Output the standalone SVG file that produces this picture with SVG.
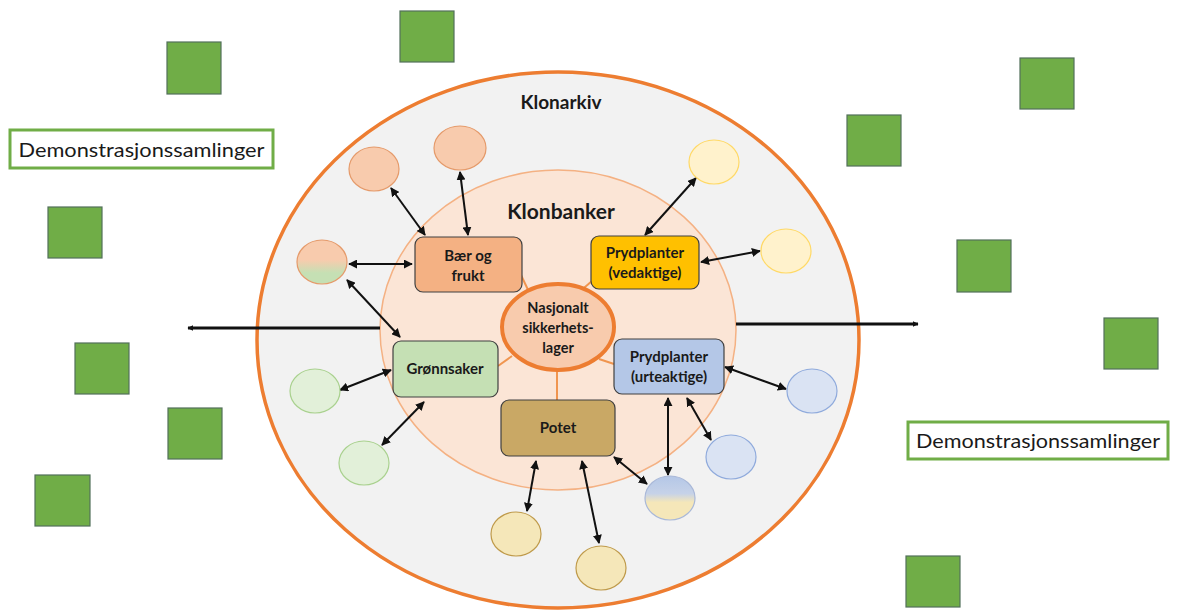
<svg xmlns="http://www.w3.org/2000/svg" width="1177" height="610" viewBox="0 0 1177 610">
<defs>
<style>
.sq{fill:#70AD47;stroke:#52705A;stroke-width:1.2}
.demo{fill:#fff;stroke:#70AD47;stroke-width:3}
.demot{font-family:Lato,"Liberation Sans",sans-serif;font-size:20px;fill:#1a1a1a;text-anchor:middle}
.bt{font-family:Lato,"Liberation Sans",sans-serif;font-size:15px;font-weight:bold;fill:#1a1a1a;text-anchor:middle}
.ct{font-family:Lato,"Liberation Sans",sans-serif;font-size:14.5px;font-weight:bold;fill:#1a1a1a;text-anchor:middle}
.title{font-family:Lato,"Liberation Sans",sans-serif;font-weight:bold;fill:#1a1a1a;text-anchor:middle}
.box{stroke:#404040;stroke-width:1.2}
.spoke{stroke:#F0954F;stroke-width:2;fill:none}
.arr{stroke:#111;stroke-width:2;fill:none;marker-start:url(#ah);marker-end:url(#ah)}
.long{stroke:#111;stroke-width:3;fill:none}
.co{fill:#F8CBAD;stroke:#E59A6A;stroke-width:1.2}
.cy{fill:#FFF2CC;stroke:#FFD966;stroke-width:1.2}
.cg{fill:#E2F0D9;stroke:#A9D18E;stroke-width:1.2}
.cp{fill:#F5E7B9;stroke:#BF9A4A;stroke-width:1.2}
.cb{fill:#DAE3F3;stroke:#8FAADC;stroke-width:1.2}
</style>
<marker id="ah" viewBox="0 0 10 10" refX="9" refY="5" markerWidth="4.5" markerHeight="4.5" orient="auto-start-reverse" markerUnits="strokeWidth">
<path d="M0,0 L10,5 L0,10 Z" fill="#111"/>
</marker>
<marker id="ahs" viewBox="0 0 10 10" refX="9" refY="5" markerWidth="2" markerHeight="2" orient="auto-start-reverse" markerUnits="strokeWidth">
<path d="M0,0 L10,5 L0,10 Z" fill="#111"/>
</marker>
<linearGradient id="gOG" x1="0" y1="0" x2="0" y2="1">
<stop offset="0" stop-color="#F8CBAD"/><stop offset="0.45" stop-color="#F8CBAD"/><stop offset="0.75" stop-color="#C5E0B4"/><stop offset="1" stop-color="#C5E0B4"/>
</linearGradient>
<linearGradient id="gBY" x1="0" y1="0" x2="0" y2="1">
<stop offset="0" stop-color="#B4C7E7"/><stop offset="0.4" stop-color="#C6D2E8"/><stop offset="0.6" stop-color="#F5E7B9"/><stop offset="1" stop-color="#F5E7B9"/>
</linearGradient>
</defs>
<rect width="1177" height="610" fill="#fff"/>

<g id="squares">
<rect class="sq" x="167" y="42" width="54" height="52"/>
<rect class="sq" x="400" y="11" width="54" height="51"/>
<rect class="sq" x="48" y="207" width="54" height="51"/>
<rect class="sq" x="75" y="343" width="54" height="51"/>
<rect class="sq" x="168" y="408" width="54" height="51"/>
<rect class="sq" x="35" y="475" width="55" height="51"/>
<rect class="sq" x="1020" y="58" width="54" height="51"/>
<rect class="sq" x="847" y="115" width="54" height="51"/>
<rect class="sq" x="957" y="240" width="54" height="52"/>
<rect class="sq" x="1104" y="318" width="54" height="51"/>
<rect class="sq" x="906" y="556" width="54" height="51"/>
</g>

<g id="demo-left">
<rect class="demo" x="10" y="130" width="263" height="38"/>
<text class="demot" x="141.5" y="157" textLength="246" lengthAdjust="spacingAndGlyphs">Demonstrasjonssamlinger</text>
</g>
<g id="demo-right">
<rect class="demo" x="908" y="422" width="260" height="37"/>
<text class="demot" x="1038" y="448" textLength="244" lengthAdjust="spacingAndGlyphs">Demonstrasjonssamlinger</text>
</g>

<g id="klonarkiv">
<ellipse cx="558" cy="340" rx="301" ry="268" fill="#F2F2F2" stroke="#ED7D31" stroke-width="3.5"/>
<text class="title" x="561" y="109" font-size="19">Klonarkiv</text>
</g>

<g id="klonbanker">
<ellipse cx="558" cy="330" rx="178" ry="160" fill="#FBE5D6" stroke="#F4B183" stroke-width="1.5"/>
<text class="title" x="561" y="219" font-size="21">Klonbanker</text>
</g>

<g id="connectors">
<line class="spoke" x1="520" y1="273" x2="530" y2="294"/>
<line class="spoke" x1="592" y1="281" x2="578" y2="293"/>
<line class="spoke" x1="498" y1="366" x2="512" y2="356"/>
<line class="spoke" x1="557" y1="371" x2="557" y2="400"/>
<line class="spoke" x1="599" y1="359" x2="614" y2="364"/>
<line class="long" x1="380" y1="328" x2="188" y2="328" marker-end="url(#ahs)"/>
<line class="long" x1="736" y1="324" x2="918" y2="324" marker-end="url(#ahs)"/>
<line class="arr" x1="391" y1="188" x2="425" y2="235"/>
<line class="arr" x1="460" y1="172" x2="468" y2="235"/>
<line class="arr" x1="349" y1="264" x2="412" y2="264"/>
<line class="arr" x1="347" y1="280" x2="400" y2="337"/>
<line class="arr" x1="696" y1="178" x2="645" y2="235"/>
<line class="arr" x1="760" y1="251" x2="701" y2="262"/>
<line class="arr" x1="340" y1="390" x2="391" y2="370"/>
<line class="arr" x1="382" y1="445" x2="424" y2="402"/>
<line class="arr" x1="536" y1="461" x2="527" y2="511"/>
<line class="arr" x1="582" y1="461" x2="599" y2="543"/>
<line class="arr" x1="725" y1="367" x2="786" y2="389"/>
<line class="arr" x1="687" y1="398" x2="711" y2="440"/>
<line class="arr" x1="668" y1="398" x2="668" y2="475"/>
<line class="arr" x1="614" y1="457" x2="647" y2="484"/>
</g>

<g id="sikkerhetslager">
<ellipse cx="558" cy="327" rx="56" ry="43" fill="#F8CBAD" stroke="#ED7D31" stroke-width="4"/>
<text class="ct" x="558" y="313">Nasjonalt</text>
<text class="ct" x="558" y="333">sikkerhets-</text>
<text class="ct" x="558" y="353">lager</text>
</g>

<g id="baer-og-frukt">
<rect class="box" x="415" y="237" width="107" height="55" rx="8" fill="#F4B183"/>
<text class="bt" x="468" y="261">Bær og</text>
<text class="bt" x="468" y="281">frukt</text>
</g>
<g id="prydplanter-vedaktige">
<rect class="box" x="591" y="236" width="108" height="53" rx="8" fill="#FFC000"/>
<text class="bt" x="645" y="258">Prydplanter</text>
<text class="bt" x="645" y="278">(vedaktige)</text>
</g>
<g id="gronnsaker">
<rect class="box" x="393" y="341" width="105" height="56" rx="8" fill="#C5E0B4"/>
<text class="bt" x="445" y="374">Grønnsaker</text>
</g>
<g id="potet">
<rect class="box" x="501" y="400" width="114" height="56" rx="8" fill="#C9A865"/>
<text class="bt" x="558" y="433">Potet</text>
</g>
<g id="prydplanter-urteaktige">
<rect class="box" x="614" y="339" width="110" height="55" rx="8" fill="#B4C7E7"/>
<text class="bt" x="669" y="362">Prydplanter</text>
<text class="bt" x="669" y="382">(urteaktige)</text>
</g>

<g id="c-baer-1"><ellipse class="co" cx="374" cy="169" rx="25" ry="22"/></g>
<g id="c-baer-2"><ellipse class="co" cx="460" cy="148" rx="26" ry="22"/></g>
<g id="c-baer-gronn"><ellipse cx="322" cy="262" rx="25" ry="22" fill="url(#gOG)" stroke="#E59A6A" stroke-width="1.2"/></g>
<g id="c-ved-1"><ellipse class="cy" cx="714" cy="162" rx="25" ry="22"/></g>
<g id="c-ved-2"><ellipse class="cy" cx="786" cy="251" rx="25" ry="22"/></g>
<g id="c-gronn-1"><ellipse class="cg" cx="315" cy="391" rx="25" ry="22"/></g>
<g id="c-gronn-2"><ellipse class="cg" cx="364" cy="463" rx="25" ry="22"/></g>
<g id="c-potet-1"><ellipse class="cp" cx="516" cy="534" rx="25" ry="22"/></g>
<g id="c-potet-2"><ellipse class="cp" cx="601" cy="568" rx="25" ry="22"/></g>
<g id="c-urte-1"><ellipse class="cb" cx="812" cy="391" rx="25" ry="22"/></g>
<g id="c-urte-2"><ellipse class="cb" cx="731" cy="457" rx="25" ry="22"/></g>
<g id="c-urte-potet"><ellipse cx="670" cy="498" rx="25" ry="22" fill="url(#gBY)" stroke="#A9B8D8" stroke-width="1.2"/></g>
</svg>
